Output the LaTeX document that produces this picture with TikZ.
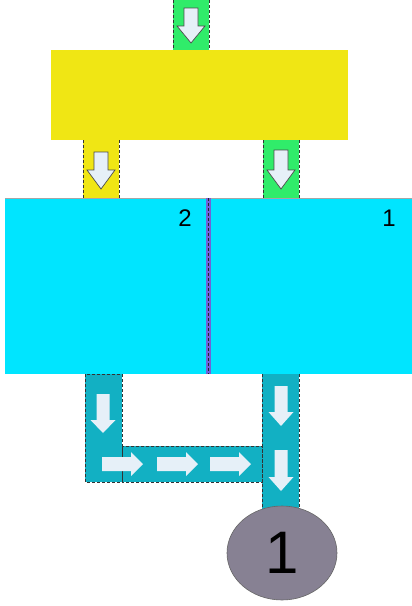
\documentclass[tikz,border=0pt]{standalone}
\usepackage{fontspec}
\setmainfont{Liberation Sans}
\usetikzlibrary{shapes.geometric}
\definecolor{cgreen}{HTML}{30EC6A}
\definecolor{cyellow}{HTML}{F0E614}
\definecolor{ccyan}{HTML}{00E5FF}
\definecolor{cteal}{HTML}{12B0C3}
\definecolor{cgrey}{HTML}{878193}
\definecolor{carrow}{HTML}{E6F0F8}
\definecolor{cdiv}{HTML}{7062D8}
\newcommand\mydarr[7][]{\filldraw[#1] (#2-#6,#3) -- (#2+#6,#3) -- (#2+#6,#4) -- (#2+#7,#4) -- (#2,#5) -- (#2-#7,#4) -- (#2-#6,#4) -- cycle;}
\newcommand\myrarr[7][]{\filldraw[#1] (#3,#2-#6) -- (#4,#2-#6) -- (#4,#2-#7) -- (#5,#2) -- (#4,#2+#7) -- (#4,#2+#6) -- (#3,#2+#6) -- cycle;}
\begin{document}
\begin{tikzpicture}[x=1pt,y=-1pt,
  chute/.style={draw=black!80, densely dashed, line width=0.6pt},
  box/.style={draw=none, inner sep=0pt},
  toparr/.style={fill=carrow, draw=black!70, line width=0.7pt, line join=miter},
  botarr/.style={fill=carrow, draw=none}]
\useasboundingbox (0,0) rectangle (412,606);
% top green chute
\path[fill=cgreen] (173,0) rectangle (209,50);
\draw[chute] (173,0) -- (173,50) (209,0) -- (209,50);
\mydarr[toparr]{191}{8}{26}{43}{7}{14}
% yellow rectangle
\node[box, fill=cyellow, minimum width=297pt, minimum height=90pt, anchor=north west] (mixer) at (51,50) {};
% chutes below yellow
\path[fill=cyellow] (83,140) rectangle (119,198);
\draw[chute] (83,140) -- (83,198) (119,140) -- (119,198);
\mydarr[toparr]{101}{152}{170}{189}{7}{14}
\path[fill=cgreen] (263,140) rectangle (299,198);
\draw[chute] (263,140) -- (263,198) (299,140) -- (299,198);
\mydarr[toparr]{281}{150}{170}{189}{7}{14}
% cyan boxes
\node[box, fill=ccyan, minimum width=202pt, minimum height=176pt, anchor=north west] (boxL) at (5,198) {};
\node[box, fill=ccyan, minimum width=202pt, minimum height=176pt, anchor=north west] (boxR) at (210,198) {};
\draw[black!35, line width=0.4pt] (5,198) -- (412,198);
\path[fill=cdiv] (206,198) rectangle (210.5,374);
\draw[black!85, densely dashed, line width=0.9pt] (208.2,198) -- (208.2,374);
\node[font=\fontsize{24}{24}\selectfont, anchor=center] (lab2) at (185,218) {2};
\node[font=\fontsize{24}{24}\selectfont, anchor=center] (lab1) at (389,218) {1};
% bottom teal channels
\path[fill=cteal] (85,374) rectangle (122,482);
\path[fill=cteal] (122,446) rectangle (262,482);
\path[fill=cteal] (262,374) rectangle (299,515);
\draw[chute] (85,374) rectangle (122,482);
\draw[chute] (122,446) rectangle (262,482);
\draw[chute] (262,374) -- (262,515) (299,374) -- (299,515);
\mydarr[botarr]{103}{394}{420}{433}{6.5}{12.5}
\myrarr[botarr]{464}{102}{131}{143}{7}{12}
\myrarr[botarr]{464}{157}{186}{198}{7}{12}
\myrarr[botarr]{464}{210}{239}{251}{7}{12}
\mydarr[botarr]{281}{386}{412}{426}{6.5}{12.5}
\mydarr[botarr]{281}{450}{477}{491}{6.5}{12.5}
% output ellipse
\node[ellipse, draw=black!60, line width=0.6pt, fill=cgrey, minimum width=110pt, minimum height=94pt, inner sep=0pt, font=\fontsize{60}{60}\selectfont] (out1) at (282,553) {1};
\end{tikzpicture}
\end{document}
